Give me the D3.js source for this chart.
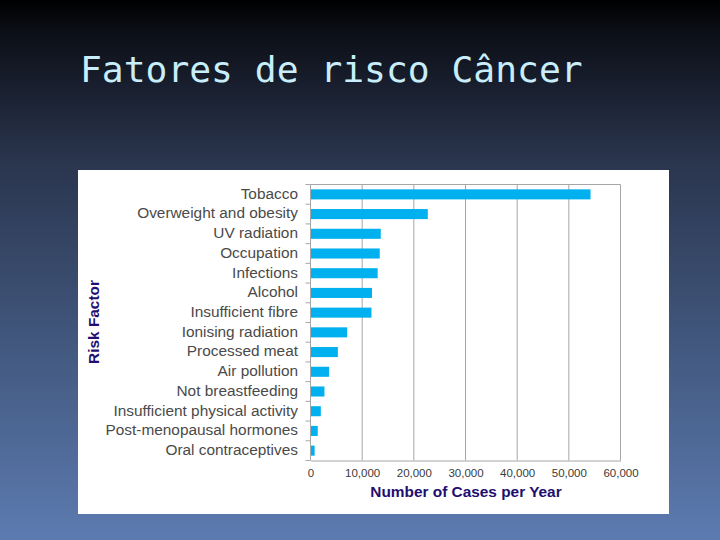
<!DOCTYPE html>
<html><head><meta charset="utf-8">
<script src="https://cdn.jsdelivr.net/npm/d3@7"></script>
<style>html,body{margin:0;padding:0;background:#000;}svg{display:block;}</style>
</head><body>
<script>
const categories = ["Tobacco","Overweight and obesity","UV radiation","Occupation","Infections","Alcohol","Insufficient fibre","Ionising radiation","Processed meat","Air pollution","Not breastfeeding","Insufficient physical activity","Post-menopausal hormones","Oral contraceptives"];
const values = [54200,22700,13600,13400,13000,11900,11800,7100,5300,3600,2700,2000,1400,800];
const xTicks = [0,10000,20000,30000,40000,50000,60000];
const title = "Fatores de risco Câncer";
const xTitle = "Number of Cases per Year";
const yTitle = "Risk Factor";

const W = 720, H = 540;
const svg = d3.select("body").append("svg").attr("width", W).attr("height", H);
const defs = svg.append("defs");
const g = defs.append("linearGradient").attr("id","bg").attr("x1",0).attr("y1",0).attr("x2",0).attr("y2",1);
[[0,"#000000"],[0.06,"#0c0f17"],[0.3,"#2a354e"],[0.6,"#3f5479"],[1,"#5c7bb0"]].forEach(([o,c])=>g.append("stop").attr("offset",o).attr("stop-color",c));
svg.append("rect").attr("width",W).attr("height",H).attr("fill","url(#bg)");

svg.append("text").attr("x",80).attr("y",82).attr("font-family","DejaVu Sans Mono").attr("font-size",36.3)
  .attr("fill","#c9eefb").text(title);

// white panel
svg.append("rect").attr("x",78).attr("y",170).attr("width",591).attr("height",344).attr("fill","#ffffff");

const x0 = 310.5, x1 = 620.5, y0 = 184.5, y1 = 460.5;
const x = d3.scaleLinear().domain([0,60000]).range([x0,x1]);
const y = d3.scaleBand().domain(categories).range([y0,y1]).paddingInner(0.49).paddingOuter(0.245);
const yb = d3.scaleBand().domain(categories).range([y0,y1]);

const plot = svg.append("g");
plot.selectAll("line.grid").data(xTicks.slice(1)).join("line")
  .attr("x1",d=>x(d)).attr("x2",d=>x(d)).attr("y1",y0).attr("y2",y1)
  .attr("stroke","#a6a6a6").attr("stroke-width",1);
plot.append("line").attr("x1",x0).attr("x2",x1).attr("y1",y0).attr("y2",y0).attr("stroke","#a6a6a6");

plot.selectAll("rect.bar").data(values).join("rect")
  .attr("x",x0).attr("y",(d,i)=>y(categories[i]))
  .attr("width",d=>x(d)-x0).attr("height",y.bandwidth())
  .attr("fill","#00b0ef");

const xAxis = d3.axisBottom(x).tickValues(xTicks).tickSize(0).tickPadding(8).tickFormat(d3.format(","));
const xg = svg.append("g").attr("transform",`translate(0,${y1})`).call(xAxis);
xg.select(".domain").attr("stroke","#a6a6a6");
xg.selectAll("text").attr("font-family","Liberation Sans, Arial").attr("font-size",11.5).attr("fill","#3a3a3a");

const yg = svg.append("g");
yg.append("line").attr("x1",x0).attr("x2",x0).attr("y1",y0).attr("y2",y1).attr("stroke","#a6a6a6");
const bounds = d3.range(categories.length+1).map(i=>y0+i*yb.step());
yg.selectAll("line.tk").data(bounds).join("line")
  .attr("x1",x0-5).attr("x2",x0).attr("y1",d=>d).attr("y2",d=>d).attr("stroke","#a6a6a6");
yg.selectAll("text").data(categories).join("text")
  .attr("x",298).attr("y",d=>yb(d)+yb.bandwidth()/2).attr("dy","0.28em")
  .attr("text-anchor","end").attr("font-family","Liberation Sans, Arial").attr("font-size",15.4)
  .attr("fill","#4a4a4a").text(d=>d);

svg.append("text").attr("x",466).attr("y",497).attr("text-anchor","middle")
  .attr("font-family","Liberation Sans, Arial").attr("font-weight","bold").attr("font-size",15.4)
  .attr("fill","#220e70").text(xTitle);
svg.append("text").attr("transform","translate(98.5,322) rotate(-90)").attr("text-anchor","middle")
  .attr("font-family","Liberation Sans, Arial").attr("font-weight","bold").attr("font-size",15.4)
  .attr("fill","#220e70").text(yTitle);
</script>
</body></html>
